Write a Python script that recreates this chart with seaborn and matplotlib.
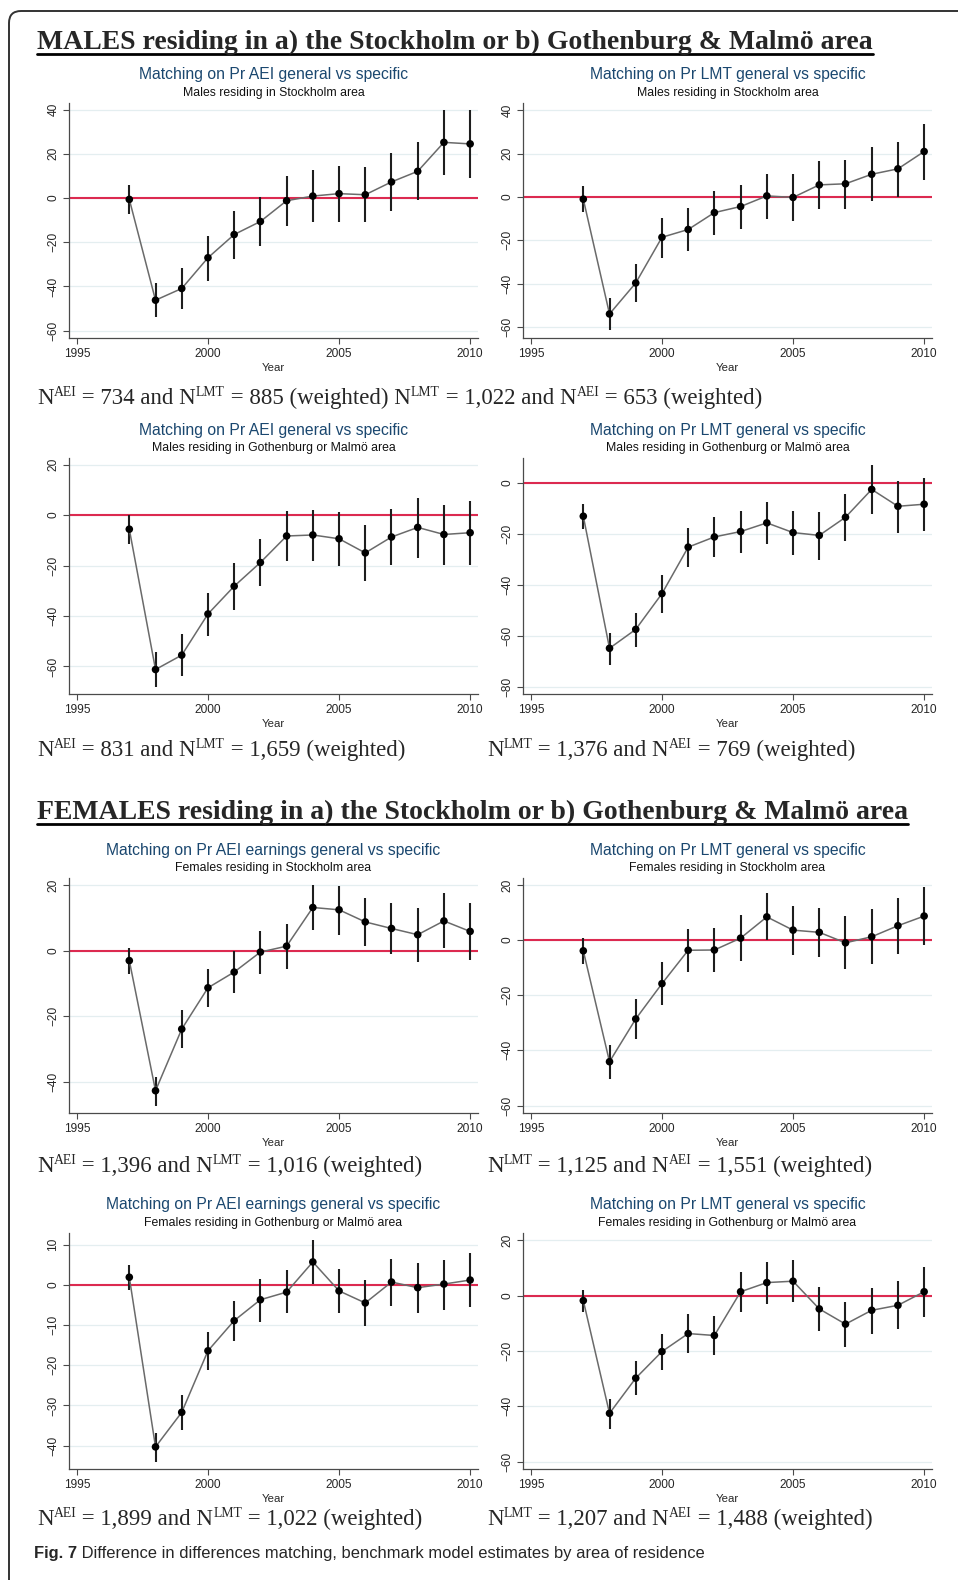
import re
import numpy as np
import pandas as pd
import matplotlib
matplotlib.use("Agg")
import matplotlib.pyplot as plt
import seaborn as sns
from matplotlib.patches import FancyBboxPatch
from matplotlib.lines import Line2D
from matplotlib.transforms import IdentityTransform

#%% data

years = list(range(1997, 2011))

m_sthlm_aei_est = [-0.6, -46.2, -40.9, -27.0, -16.5, -10.6, -1.2, 0.9, 2.0, 1.5, 7.3, 12.1, 25.2, 24.5]
m_sthlm_aei_lo = [-7.0, -54.0, -50.3, -37.4, -27.4, -21.8, -12.7, -10.9, -10.9, -10.9, -5.9, -1.0, 10.5, 9.1]
m_sthlm_aei_hi = [5.8, -38.6, -31.5, -17.0, -6.0, 0.3, 10.0, 12.6, 14.5, 14.1, 20.3, 25.2, 39.7, 39.7]

m_sthlm_lmt_est = [-1.0, -54.0, -39.7, -18.6, -15.0, -7.2, -4.4, 0.5, -0.2, 5.6, 6.1, 10.5, 13.0, 21.0]
m_sthlm_lmt_lo = [-7.0, -61.5, -48.4, -28.2, -25.0, -17.6, -14.8, -10.2, -11.3, -5.6, -5.5, -1.8, 0.0, 8.0]
m_sthlm_lmt_hi = [5.0, -46.5, -31.0, -9.5, -4.9, 3.0, 5.5, 10.8, 10.5, 16.6, 17.2, 22.9, 25.6, 33.9]

m_gm_aei_est = [-5.6, -61.2, -55.5, -39.2, -28.2, -18.8, -8.3, -7.9, -9.4, -15.0, -8.7, -4.9, -7.7, -7.0]
m_gm_aei_lo = [-11.4, -68.0, -63.7, -47.8, -37.6, -28.0, -18.3, -18.4, -20.0, -26.2, -19.9, -17.1, -19.7, -19.6]
m_gm_aei_hi = [0.0, -54.4, -47.3, -30.9, -19.0, -9.5, 1.6, 2.1, 1.1, -4.0, 2.3, 6.9, 4.0, 5.6]

m_gm_lmt_est = [-13.1, -64.8, -57.4, -43.4, -25.2, -21.2, -19.1, -15.7, -19.5, -20.6, -13.5, -2.6, -9.2, -8.4]
m_gm_lmt_lo = [-18.0, -71.2, -64.4, -50.9, -32.9, -29.1, -27.4, -24.0, -28.1, -30.1, -22.7, -12.3, -19.5, -18.7]
m_gm_lmt_hi = [-8.3, -59.0, -50.8, -36.1, -17.8, -13.4, -11.0, -7.5, -10.9, -11.6, -4.4, 7.0, 0.8, 1.7]

f_sthlm_aei_est = [-3.0, -42.7, -23.9, -11.3, -6.5, -0.4, 1.4, 13.2, 12.5, 8.8, 6.8, 4.9, 9.1, 5.9]
f_sthlm_aei_lo = [-7.1, -47.5, -29.6, -17.3, -13.0, -7.1, -5.6, 6.2, 4.9, 1.4, -1.0, -3.4, 0.7, -2.7]
f_sthlm_aei_hi = [0.9, -38.4, -18.2, -5.5, -0.1, 6.1, 8.1, 20.1, 19.9, 16.2, 14.5, 13.0, 17.5, 14.5]

f_sthlm_lmt_est = [-3.9, -44.1, -28.6, -15.8, -3.7, -3.6, 0.7, 8.4, 3.6, 2.8, -1.0, 1.2, 5.2, 8.7]
f_sthlm_lmt_lo = [-8.8, -50.2, -35.9, -23.6, -11.6, -11.6, -7.6, -0.1, -5.3, -6.1, -10.6, -8.8, -5.1, -1.8]
f_sthlm_lmt_hi = [0.6, -38.0, -21.4, -8.1, 3.9, 4.3, 9.0, 17.0, 12.5, 11.7, 8.7, 11.1, 15.1, 19.2]

f_gm_aei_est = [1.9, -40.3, -31.7, -16.4, -8.9, -3.7, -1.8, 5.7, -1.5, -4.5, 0.7, -0.7, 0.2, 1.2]
f_gm_aei_lo = [-1.2, -44.0, -36.0, -21.2, -14.0, -9.2, -7.1, 0.2, -7.1, -10.2, -5.3, -6.9, -6.2, -5.6]
f_gm_aei_hi = [4.9, -36.9, -27.4, -11.6, -4.0, 1.5, 3.6, 11.2, 4.0, 1.3, 6.5, 5.5, 6.3, 7.9]

f_gm_lmt_est = [-1.8, -42.5, -29.8, -20.2, -13.7, -14.4, 1.4, 4.7, 5.2, -4.8, -10.3, -5.3, -3.5, 1.4]
f_gm_lmt_lo = [-5.9, -48.0, -36.0, -26.9, -20.6, -21.6, -5.8, -2.9, -2.4, -12.8, -18.5, -13.7, -12.1, -7.9]
f_gm_lmt_hi = [2.2, -37.3, -23.6, -13.7, -6.7, -7.2, 8.5, 12.0, 12.8, 3.1, -2.4, 2.6, 5.2, 10.5]

x_ticks = [1995, 2000, 2005, 2010]

title_aei = 'Matching on Pr AEI general vs specific'
title_aei_earn = 'Matching on Pr AEI earnings general vs specific'
title_lmt = 'Matching on Pr LMT general vs specific'
sub_m_sthlm = 'Males residing in Stockholm area'
sub_m_gm = 'Males residing in Gothenburg or Malmö area'
sub_f_sthlm = 'Females residing in Stockholm area'
sub_f_gm = 'Females residing in Gothenburg or Malmö area'

head_males = 'MALES residing in a) the Stockholm or b) Gothenburg & Malmö area'
head_females = 'FEMALES residing in a) the Stockholm or b) Gothenburg & Malmö area'

# ^{...} marks a superscript
n_row1 = 'N^{AEI} = 734 and N^{LMT} = 885 (weighted) N^{LMT} = 1,022 and N^{AEI} = 653 (weighted)'
n_row2 = ['N^{AEI} = 831 and N^{LMT} = 1,659 (weighted)',
          'N^{LMT} = 1,376 and N^{AEI} = 769 (weighted)']
n_row3 = ['N^{AEI} = 1,396 and N^{LMT} = 1,016 (weighted)',
          'N^{LMT} = 1,125 and N^{AEI} = 1,551 (weighted)']
n_row4 = ['N^{AEI} = 1,899 and N^{LMT} = 1,022 (weighted)',
          'N^{LMT} = 1,207 and N^{AEI} = 1,488 (weighted)']

caption_bold = 'Fig. 7'
caption_rest = ' Difference in differences matching, benchmark model estimates by area of residence'

#%% style

sns.set_style("white")
plt.rcParams['font.family'] = ['Liberation Sans', 'DejaVu Sans']

W, H = 958, 1580
fig = plt.figure(figsize=(W / 100, H / 100), dpi=100)
renderer = fig.canvas.get_renderer()

stata_blue = '#1a476f'
red = '#dc2a50'
grid_col = '#e4eef0'
axis_col = '#4a4a4a'
serif = ['Liberation Serif', 'DejaVu Serif']


def fx(px):
    return px / W


def fy(py):
    return 1 - py / H


def panel(left, right, top, bottom, est, lo, hi, yticks, ylim, title, sub):
    ax = fig.add_axes([fx(left), fy(bottom), fx(right - left), (bottom - top) / H])
    df = pd.DataFrame({'Year': years, 'est': est, 'lo': lo, 'hi': hi})
    ax.set_axisbelow(True)
    ax.yaxis.grid(True, color=grid_col, lw=0.9)
    ax.xaxis.grid(False)
    ax.axhline(0, color=red, lw=1.5, zorder=1)
    ax.vlines(df.Year, df.lo, df.hi, color='#1e1e1e', lw=1.5, zorder=2)
    sns.lineplot(data=df, x='Year', y='est', color='#6a6a6a', lw=1.1, ax=ax, zorder=3)
    sns.scatterplot(data=df, x='Year', y='est', color='black', s=30, edgecolor='none',
                    ax=ax, zorder=4)
    ax.set_xlim(1994.7, 2010.3)
    ax.set_ylim(*ylim)
    ax.set_xticks(x_ticks)
    ax.set_yticks(yticks)
    for s in ['top', 'right']:
        ax.spines[s].set_visible(False)
    for s in ['left', 'bottom']:
        ax.spines[s].set_color(axis_col)
        ax.spines[s].set_linewidth(0.9)
    ax.tick_params(direction='out', length=4, width=0.8, color=axis_col,
                   labelsize=8.6, pad=3, left=True, bottom=True)
    for lab in ax.get_yticklabels():
        lab.set_rotation(90)
        lab.set_va('center')
    ax.set_xlabel('Year', fontsize=8.2, labelpad=2.5)
    ax.set_ylabel('')
    cx = (left + right) / 2
    fig.text(fx(cx), fy(top - 28), title, ha='center', va='center',
             color=stata_blue, fontsize=11.3)
    fig.text(fx(cx), fy(top - 10), sub, ha='center', va='center',
             color='#111111', fontsize=8.8)
    return ax


def text_w(s, size, **kw):
    # advance width in px, trailing/leading spaces included
    t = fig.text(0, 0, '|' + s + '|', fontsize=size, **kw)
    t2 = fig.text(0, 0, '||', fontsize=size, **kw)
    w = t.get_window_extent(renderer).width - t2.get_window_extent(renderer).width
    t.remove()
    t2.remove()
    return w


def split_sup(s):
    parts = re.split(r'\^\{([^}]*)\}', s)
    return [(p, i % 2 == 1) for i, p in enumerate(parts) if p]


def sup_line(x, ybase, s, size, draw=True):
    cur = x
    em = size * 100 / 72
    for piece, sup in split_sup(s):
        fs = size * 0.6 if sup else size
        yy = ybase - (0.36 * em if sup else 0)
        if draw:
            fig.text(fx(cur), fy(yy), piece, ha='left', va='baseline',
                     fontsize=fs, family=serif)
        cur += text_w(piece, fs, family=serif)
    return cur - x


def fit_text(x, y, s, width, **kw):
    t = fig.text(fx(x), fy(y), s, ha='left', va='baseline', fontsize=20, **kw)
    bb = t.get_window_extent(renderer)
    t.set_fontsize(20 * width / bb.width)
    return t


L = (69, 478)
R = (523, 932)
rows = [(103, 338), (458, 694), (878, 1113), (1233, 1469)]

panel(*L, *rows[0], m_sthlm_aei_est, m_sthlm_aei_lo, m_sthlm_aei_hi,
      [-60, -40, -20, 0, 20, 40], (-63.3, 43.0), title_aei, sub_m_sthlm)
panel(*R, *rows[0], m_sthlm_lmt_est, m_sthlm_lmt_lo, m_sthlm_lmt_hi,
      [-60, -40, -20, 0, 20, 40], (-65.1, 43.4), title_lmt, sub_m_sthlm)
panel(*L, *rows[1], m_gm_aei_est, m_gm_aei_lo, m_gm_aei_hi,
      [-60, -40, -20, 0, 20], (-70.9, 22.6), title_aei, sub_m_gm)
panel(*R, *rows[1], m_gm_lmt_est, m_gm_lmt_lo, m_gm_lmt_hi,
      [-80, -60, -40, -20, 0], (-82.7, 9.7), title_lmt, sub_m_gm)
panel(*L, *rows[2], f_sthlm_aei_est, f_sthlm_aei_lo, f_sthlm_aei_hi,
      [-40, -20, 0, 20], (-49.5, 22.2), title_aei_earn, sub_f_sthlm)
panel(*R, *rows[2], f_sthlm_lmt_est, f_sthlm_lmt_lo, f_sthlm_lmt_hi,
      [-60, -40, -20, 0, 20], (-62.7, 22.5), title_lmt, sub_f_sthlm)
panel(*L, *rows[3], f_gm_aei_est, f_gm_aei_lo, f_gm_aei_hi,
      [-40, -30, -20, -10, 0, 10], (-45.8, 12.9), title_aei_earn, sub_f_gm)
panel(*R, *rows[3], f_gm_lmt_est, f_gm_lmt_lo, f_gm_lmt_hi,
      [-60, -40, -20, 0, 20], (-62.6, 22.6), title_lmt, sub_f_gm)

#%% headings, sample sizes, caption

h1 = fit_text(37, 49, head_males, 835, family=serif, weight='bold')
h2 = fig.text(fx(37), fy(819), head_females, ha='left', va='baseline',
              fontsize=h1.get_fontsize(), family=serif, weight='bold')
for t, uy in [(h1, 54), (h2, 824)]:
    bb = t.get_window_extent(renderer)
    fig.add_artist(Line2D([fx(bb.x0), fx(bb.x1)], [fy(uy), fy(uy)],
                          color='black', lw=2.0))

# font size so that the first sample-size line spans the same width as in the figure
w20 = sup_line(37, 404, n_row1, 20, draw=False)
nsize = 20 * 724 / w20
sup_line(37, 404, n_row1, nsize)
for ypos, pair in [(756, n_row2), (1172, n_row3), (1525, n_row4)]:
    sup_line(37, ypos, pair[0], nsize)
    sup_line(487, ypos, pair[1], nsize)

cap_font = ['Liberation Sans Narrow', 'Liberation Sans', 'DejaVu Sans']
cb = fit_text(34, 1558, caption_bold + caption_rest, 662, family=cap_font)
csize = cb.get_fontsize()
cb.set_text(caption_bold)
cb.set_weight('bold')
bb = cb.get_window_extent(renderer)
fig.text(bb.x1 / W, fy(1558), caption_rest, ha='left', va='baseline',
         fontsize=csize, family=cap_font)

# rounded frame (only top and left edges fall inside the image)
frame = FancyBboxPatch((9, -60), 1100, H - 11 + 60,
                       boxstyle='round,pad=0,rounding_size=12',
                       transform=IdentityTransform(), fill=False,
                       edgecolor='#333333', lw=1.4)
fig.add_artist(frame)

fig.savefig('out.png', dpi=100)
